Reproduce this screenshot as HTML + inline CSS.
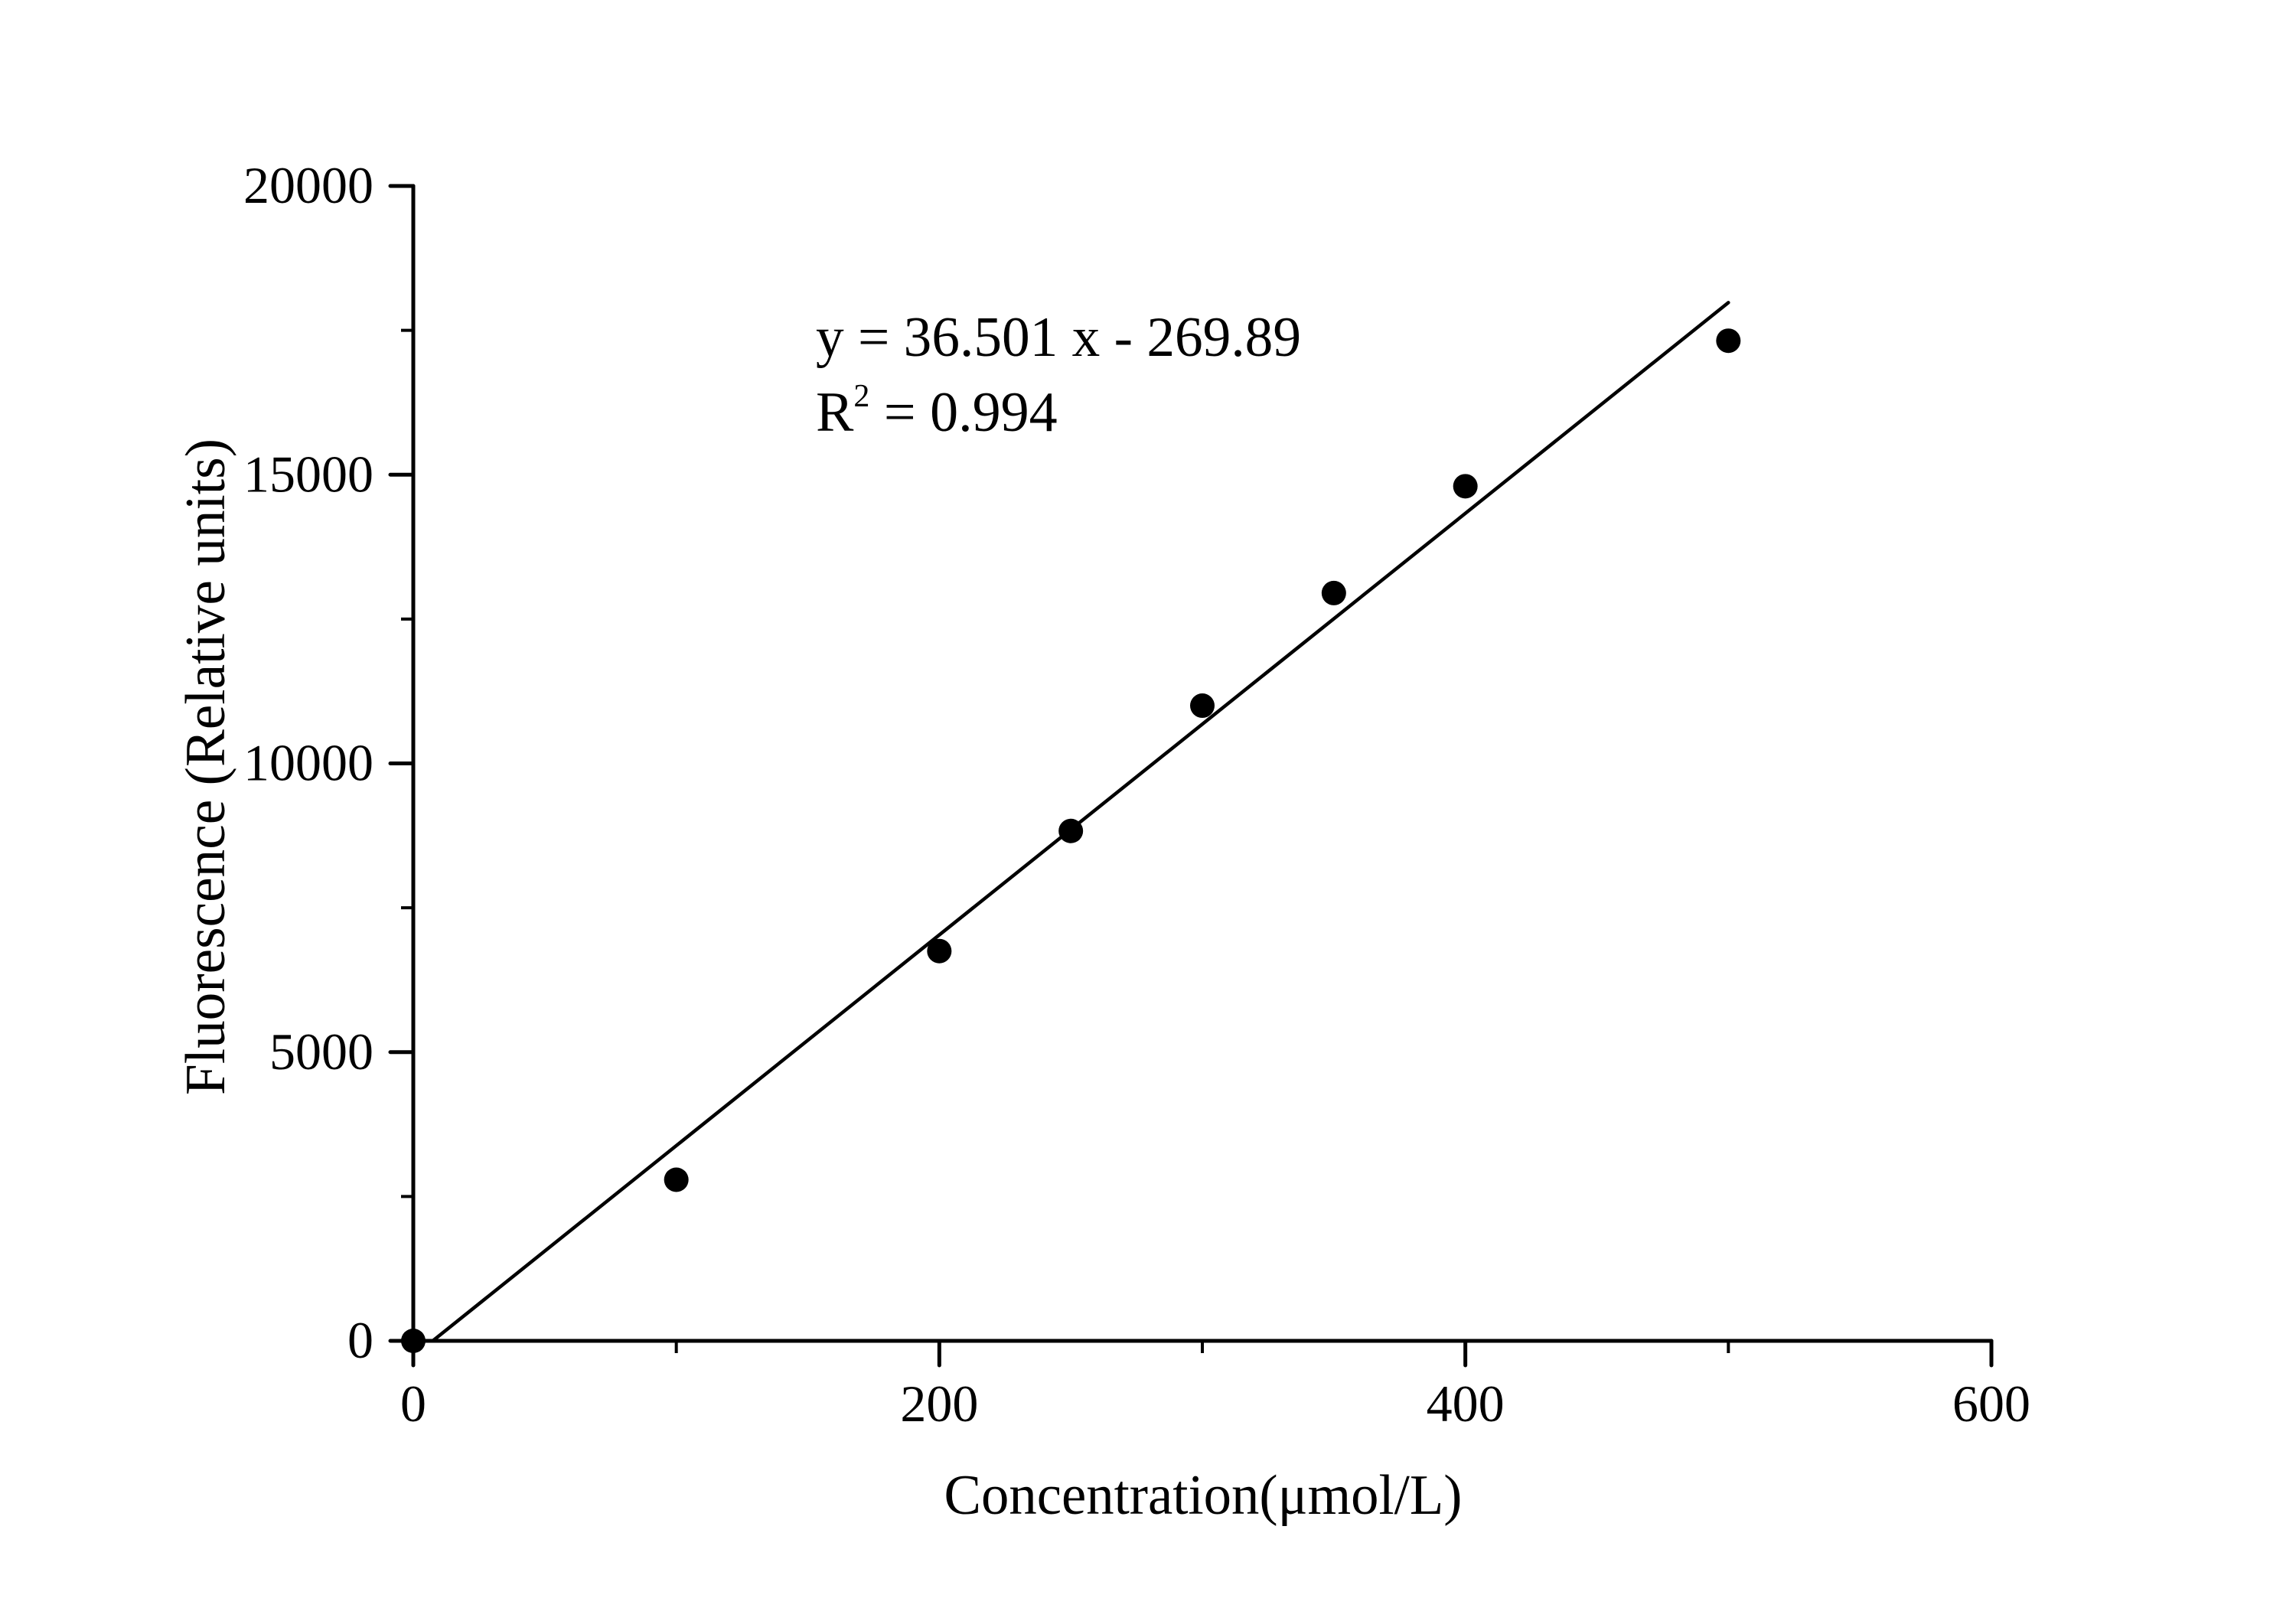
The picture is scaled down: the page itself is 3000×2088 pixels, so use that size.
<!DOCTYPE html>
<html><head><meta charset="utf-8"><style>html,body{margin:0;padding:0;background:#fff}svg{display:block}</style></head>
<body>
<svg id="chart" width="3000" height="2088" viewBox="0 0 3000 2088" xmlns="http://www.w3.org/2000/svg" font-family="'Liberation Serif', serif">
<g id="axes"></g>
<g id="marks"></g>
<text x="1066" y="465" font-size="74" textLength="634" lengthAdjust="spacingAndGlyphs">y = 36.501 x - 269.89</text>
<text x="1066" y="563" font-size="74">R<tspan font-size="42" dy="-32">2</tspan><tspan dy="32"> = 0.994</tspan></text>
<text x="1572" y="1978" font-size="74" text-anchor="middle" textLength="677" lengthAdjust="spacingAndGlyphs">Concentration(μmol/L)</text>
<text transform="translate(293,1002) rotate(-90)" font-size="74" text-anchor="middle" textLength="858" lengthAdjust="spacingAndGlyphs">Fluorescence (Relative units)</text>
</svg>
<script>
const xValues = [0, 100, 200, 250, 300, 350, 400, 500];
const yValues = [0, 2790, 6750, 8830, 11000, 12950, 14800, 17320];
const slope = 36.501;
const intercept = -269.89;
const xTicks = [0, 200, 400, 600];
const xMinor = [100, 300, 500];
const yTicks = [0, 5000, 10000, 15000, 20000];
const yMinor = [2500, 7500, 12500, 17500];

const X0 = 540, X1 = 2602, Y0 = 1752, Y1 = 243;
const xs = v => X0 + (v - 0) / 600 * (X1 - X0);
const ys = v => Y0 - (v - 0) / 20000 * (Y0 - Y1);
const NS = 'http://www.w3.org/2000/svg';
const axes = document.getElementById('axes');
const marks = document.getElementById('marks');
function mk(tag, attrs, parent) {
  const e = document.createElementNS(NS, tag);
  for (const k in attrs) e.setAttribute(k, attrs[k]);
  parent.appendChild(e);
  return e;
}
let e;
e = mk('path', {d:`M${X0} ${Y1} H${X0-27} M${X0} ${Y1} V${Y0} H${X1} V${Y0+30}`, stroke:'#000', 'stroke-width':5, fill:'none', 'stroke-linecap':'round', 'stroke-linejoin':'round'}, axes);


xTicks.forEach(v => {
  const t = mk('line', {x1:xs(v), x2:xs(v), y1:Y0, y2:Y0+32, stroke:'#000', 'stroke-width':5, 'stroke-linecap':'round'}, axes);
  
  
  const l = mk('text', {x:xs(v), y:1857, 'font-size':68, 'text-anchor':'middle'}, axes);
  l.textContent = v;
  
  
});
xMinor.forEach(v => {
  const t = mk('line', {x1:xs(v), x2:xs(v), y1:Y0, y2:Y0+16, stroke:'#000', 'stroke-width':4}, axes);
  
  
});
yTicks.forEach(v => {
  const t = mk('line', {x1:X0-30, x2:X0, y1:ys(v), y2:ys(v), stroke:'#000', 'stroke-width':5, 'stroke-linecap':'round'}, axes);
  
  
  const l = mk('text', {x:488, y:ys(v)+22, 'font-size':68, 'text-anchor':'end'}, axes);
  l.textContent = v;
  
  
});
yMinor.forEach(v => {
  const t = mk('line', {x1:X0-16, x2:X0, y1:ys(v), y2:ys(v), stroke:'#000', 'stroke-width':4}, axes);
  
  
});
const xStart = -intercept / slope, xEnd = xValues[xValues.length - 1];
e = mk('line', {x1:xs(xStart), y1:ys(slope*xStart+intercept), x2:xs(xEnd), y2:ys(slope*xEnd+intercept), stroke:'#000', 'stroke-width':4.5, 'stroke-linecap':'round'}, marks);


xValues.forEach((x, i) => {
  const c = mk('circle', {cx:xs(x), cy:ys(yValues[i]), r:16, fill:'#000'}, marks);
  
  
});
</script>
</body></html>
